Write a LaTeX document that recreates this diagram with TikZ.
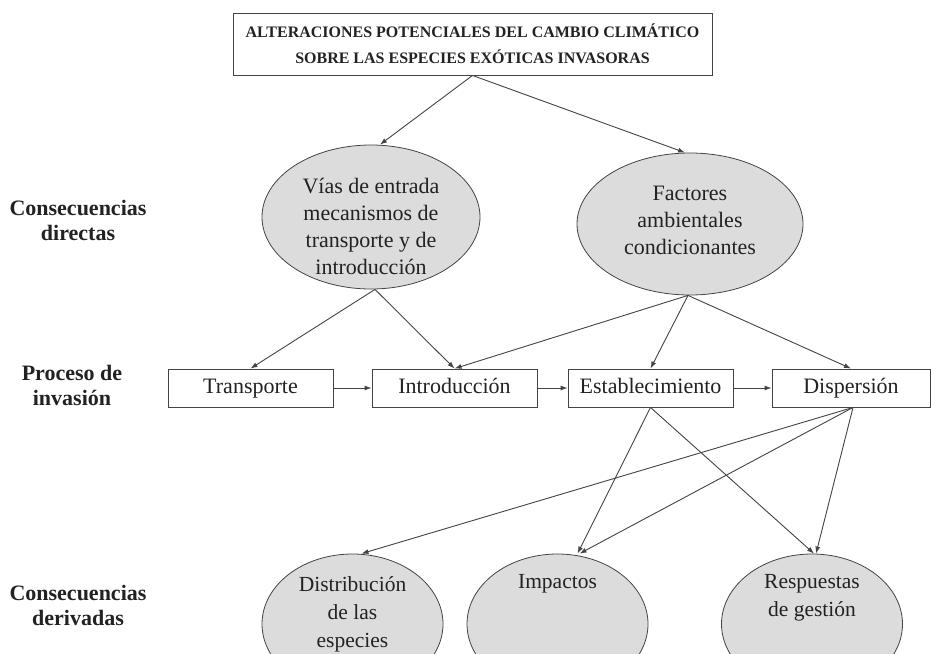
\documentclass[tikz,border=0pt]{standalone}
\usepackage{fontspec}
\setmainfont{Liberation Serif}
\usetikzlibrary{shapes.geometric,arrows.meta}
\definecolor{linec}{HTML}{444444}
\definecolor{fillc}{HTML}{DCDCDC}
\definecolor{txtc}{HTML}{222222}
\begin{document}
\begin{tikzpicture}[x=1pt,y=-1pt,
  conn/.style={draw=linec,line width=0.9pt,-{Latex[length=7pt,width=5pt]}},
  procbox/.style={draw=linec,line width=0.9pt,rectangle,minimum height=38pt,inner sep=0pt,
    text height=15pt,text depth=5pt,font=\fontsize{22}{25}\selectfont,text=txtc},
  bell/.style={draw=linec,line width=0.8pt,ellipse,fill=fillc,inner sep=0pt},
  eltext/.style={align=center,font=\fontsize{22}{27}\selectfont,text=txtc},
  lowtext/.style={align=center,font=\fontsize{21.5}{28}\selectfont,text=txtc},
  side/.style={align=center,font=\bfseries\fontsize{22}{25}\selectfont,text=txtc}]
\useasboundingbox (0,0) rectangle (931,653);
\clip (0,0) rectangle (931,653);
\fill[white] (0,0) rectangle (931,653);

% title
\node[draw=linec,line width=0.9pt,minimum width=479pt,minimum height=62pt,inner sep=0pt,align=center,text=txtc,
      font=\bfseries\fontsize{16}{26}\selectfont] (title) at (472.5,44)
  {ALTERACIONES POTENCIALES DEL CAMBIO CLIMÁTICO\\SOBRE LAS ESPECIES EXÓTICAS INVASORAS};

% side labels
\node[side] (lab1) at (78,220) {Consecuencias\\directas};
\node[side] (lab2) at (72,385) {Proceso de\\invasión};
\node[side] (lab3) at (78,605) {Consecuencias\\derivadas};

% direct consequences
\node[bell,minimum width=218pt,minimum height=144pt] (vias) at (371,217) {};
\node[eltext] (viast) at (371,226) {Vías de entrada\\mecanismos de\\transporte y de\\introducción};
\node[bell,minimum width=226pt,minimum height=142pt] (fact) at (690,224) {};
\node[eltext] (factt) at (690,220) {Factores\\ambientales\\condicionantes};

% process
\node[procbox,minimum width=165pt] (trans) at (250.5,388) {Transporte};
\node[procbox,minimum width=165pt] (intro) at (454.5,388) {Introducción};
\node[procbox,minimum width=165pt] (estab) at (650.5,388) {Establecimiento};
\node[procbox,minimum width=158pt] (disp) at (851,388) {Dispersión};

% derived consequences
\node[bell,minimum width=181pt,minimum height=140pt] (dist) at (352.5,624) {};
\node[lowtext] (distt) at (352.5,614) {Distribución\\de las\\especies};
\node[bell,minimum width=181pt,minimum height=140pt] (imp) at (557.5,624) {};
\node[lowtext] (impt) at (557.5,584) {Impactos};
\node[bell,minimum width=181pt,minimum height=140pt] (resp) at (812,624) {};
\node[lowtext] (respt) at (812,598) {Respuestas\\de gestión};

% connectors
\draw[conn] (title.south) -- ([xshift=9pt]vias.north);
\draw[conn] (title.south) -- ([xshift=-5pt]fact.north);
\draw[conn] ([xshift=4pt]vias.south) -- (trans.north);
\draw[conn] ([xshift=4pt]vias.south) -- (intro.north);
\draw[conn] ([xshift=-2pt]fact.south) -- (intro.north);
\draw[conn] ([xshift=-2pt]fact.south) -- (estab.north);
\draw[conn] ([xshift=-2pt]fact.south) -- (disp.north);
\draw[conn] (trans.east) -- (intro.west);
\draw[conn] (intro.east) -- (estab.west);
\draw[conn] (estab.east) -- (disp.west);
\draw[conn] (estab.south) -- ([xshift=20pt]imp.north);
\draw[conn] (estab.south) -- ([xshift=2pt]resp.north);
\draw[conn] ([xshift=2pt]disp.south) -- ([xshift=9pt]dist.north);
\draw[conn] ([xshift=2pt]disp.south) -- ([xshift=22pt]imp.north);
\draw[conn] ([xshift=2pt]disp.south) -- ([xshift=4pt]resp.north);
\end{tikzpicture}
\end{document}
